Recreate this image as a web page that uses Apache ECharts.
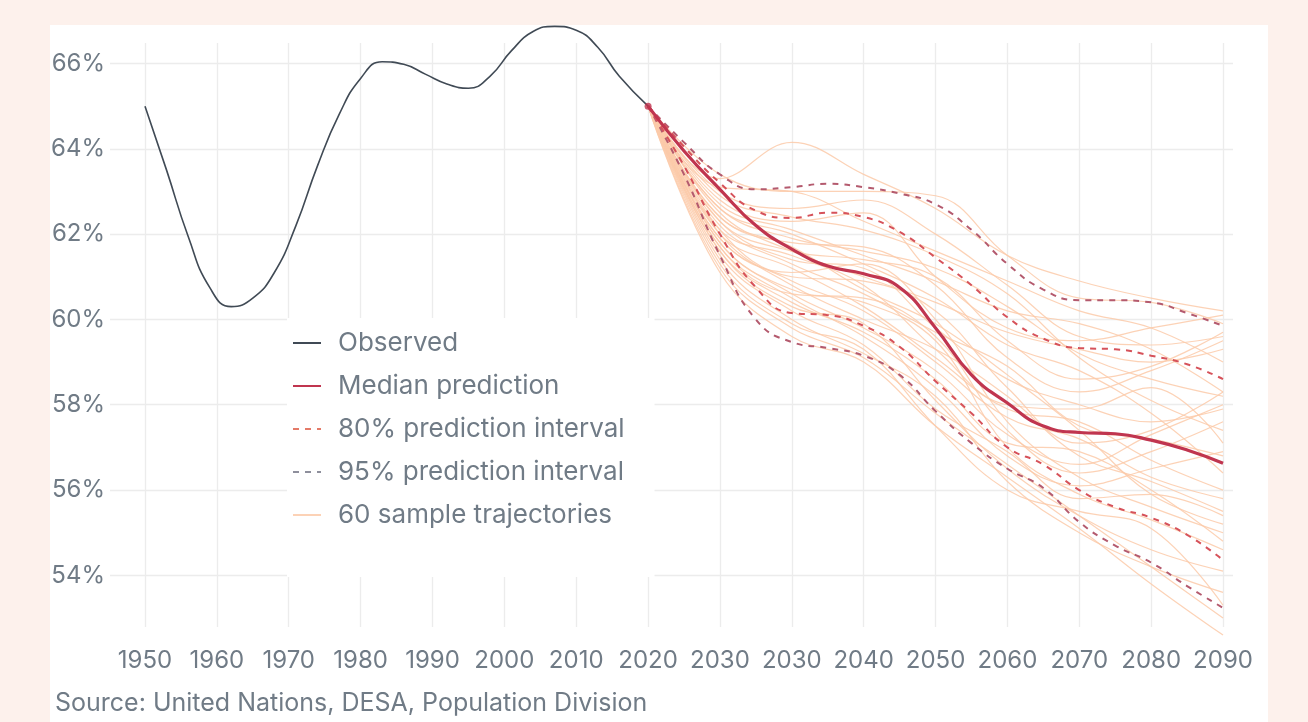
<!DOCTYPE html>
<html>
<head>
<meta charset="utf-8">
<script src="https://cdn.jsdelivr.net/npm/echarts@6/dist/echarts.min.js"></script>
<style>
  html, body { margin: 0; padding: 0; background: #fdf1ec; overflow: hidden; }
  #panel { position: absolute; left: 50px; top: 25px; width: 1218px; height: 697px; background: #ffffff; }
  #chart { position: absolute; left: 0; top: 0; width: 1308px; height: 722px; }
</style>
</head>
<body>
<div id="panel"></div>
<div id="chart"></div>
<script>
// Tick labels along the horizontal axis (one per grid column)
const xTickLabels = ['1950', '1960', '1970', '1980', '1990', '2000', '2010', '2020',
  '2030', '2030', '2040', '2050', '2060', '2070', '2080', '2090'];
const yTickValues = [54, 56, 58, 60, 62, 64, 66];

// Observed share (%) by year
const observedYears = [1950, 1953, 1956, 1959, 1962, 1965, 1968, 1971, 1974, 1977, 1980, 1983,
  1986, 1989, 1992, 1995, 1998, 2001, 2004, 2007, 2010, 2013, 2016, 2020];
const observedValues = [65.0, 63.5, 61.95, 60.75, 60.3, 60.5, 61.1, 62.2, 63.6, 64.8, 65.65, 66.04,
  65.98, 65.75, 65.52, 65.42, 65.7, 66.3, 66.75, 66.87, 66.78, 66.38, 65.7, 65.0];

// Projection positions (grid columns from the 2020 column onward, half-column steps)
const projX = [7, 7.5, 8, 8.5, 9, 9.5, 10, 10.5, 11, 11.5, 12, 12.5, 13, 13.5, 14, 14.5, 15];
const medianValues = [65.0, 63.95, 63.05, 62.2, 61.65, 61.25, 61.07, 60.75, 59.8, 58.7, 58.04,
  57.5, 57.35, 57.32, 57.17, 56.94, 56.63];
const upper95Values = [65.0, 64.15, 63.4, 63.05, 63.1, 63.18, 63.1, 62.95, 62.7, 62.1, 61.3,
  60.7, 60.45, 60.45, 60.4, 60.15, 59.85];
const upper80Values = [65.0, 64.05, 63.2, 62.55, 62.38, 62.5, 62.4, 62.05, 61.45, 60.8, 60.05,
  59.55, 59.33, 59.3, 59.15, 58.95, 58.6];
const lower80Values = [65.0, 63.6, 62.0, 60.75, 60.15, 60.1, 59.85, 59.36, 58.55, 57.8, 57.0,
  56.6, 56.0, 55.6, 55.35, 54.95, 54.36];
const lower95Values = [65.0, 63.4, 61.5, 60.0, 59.47, 59.33, 59.15, 58.7, 57.85, 57.1, 56.5,
  56.05, 55.25, 54.7, 54.3, 53.75, 53.24];

// Sample trajectories, one value per grid column from 2020 to 2090
const trajX = [7, 8, 9, 10, 11, 12, 13, 14, 15];
const trajectories = [
  [65, 63.3, 64.15, 63.4, 62.6, 61.5, 60.9, 60.5, 60.2],
  [65, 63.4, 63.0, 63.0, 62.9, 61.5, 60.5, 60.4, 59.9],
  [65, 63.0, 62.6, 62.8, 62.0, 60.8, 59.6, 59.4, 59.6],
  [65, 62.8, 62.3, 62.5, 61.0, 59.8, 59.5, 59.8, 60.1],
  [65, 62.6, 61.9, 61.6, 61.2, 60.3, 59.2, 58.6, 58.2],
  [65, 62.5, 61.6, 61.0, 60.4, 59.7, 59.3, 59.0, 59.3],
  [65, 62.4, 61.8, 61.7, 60.8, 59.1, 58.3, 58.8, 59.5],
  [65, 62.3, 61.4, 61.2, 59.8, 58.6, 58.0, 57.6, 57.9],
  [65, 62.2, 61.3, 60.6, 59.7, 58.9, 57.5, 57.2, 56.8],
  [65, 62.1, 61.0, 60.9, 60.2, 58.4, 57.1, 57.4, 58.3],
  [65, 62.0, 61.2, 60.3, 59.1, 57.9, 57.6, 56.7, 56.0],
  [65, 62.0, 60.8, 60.0, 59.3, 58.2, 56.8, 56.2, 55.5],
  [65, 61.9, 61.1, 61.3, 60.0, 57.6, 56.3, 55.6, 55.0],
  [65, 61.8, 60.6, 59.8, 58.8, 57.3, 56.6, 57.3, 58.0],
  [65, 61.8, 60.7, 60.4, 59.5, 57.0, 55.9, 55.3, 54.6],
  [65, 61.7, 60.5, 59.6, 58.4, 56.8, 56.1, 56.5, 56.9],
  [65, 61.6, 60.3, 59.9, 58.1, 56.5, 55.4, 54.6, 54.1],
  [65, 61.5, 60.2, 59.4, 57.9, 56.9, 55.8, 55.9, 55.4],
  [65, 61.4, 60.0, 59.2, 58.2, 56.2, 55.0, 54.2, 53.6],
  [65, 61.3, 59.9, 59.3, 57.5, 56.0, 55.5, 55.1, 53.3],
  [65, 61.2, 59.8, 59.1, 57.8, 56.6, 55.4, 54.2, 53.0],
  [65, 61.1, 59.6, 59.0, 57.5, 56.3, 55.1, 53.8, 52.6],
  [65, 62.7, 62.1, 61.5, 60.9, 60.2, 59.9, 59.3, 58.3],
  [65, 62.9, 62.4, 62.1, 61.5, 60.6, 59.1, 58.1, 57.4],
  [65, 62.3, 61.6, 61.4, 61.0, 59.5, 58.6, 58.9, 59.7],
  [65, 62.1, 61.5, 60.8, 59.3, 58.0, 57.9, 58.4, 57.1],
  [65, 61.9, 60.9, 60.2, 59.0, 57.7, 57.2, 56.3, 55.8],
  [65, 61.7, 60.6, 60.5, 59.6, 57.4, 56.4, 56.9, 57.6],
  [65, 63.1, 63.0, 62.3, 61.6, 60.9, 60.2, 59.8, 59.0],
  [65, 62.6, 62.0, 61.3, 60.5, 59.4, 58.8, 57.8, 56.4],
  [65, 62.4, 61.7, 60.7, 59.9, 58.7, 57.4, 55.9, 55.2],
  [65, 61.6, 60.4, 59.7, 58.6, 57.1, 56.9, 56.0, 54.8]
];

const FONT = 'Inter, "Noto Sans", sans-serif';
const TEXT_GRAY = '#707b86';
const GRID_GRAY = '#ececec';

const pairs = (xs, ys) => xs.map((x, i) => [x, ys[i]]);
const yearToColumn = y => (y - 1950) / 10;

const trajectorySeries = trajectories.map(t => ({
  name: '60 sample trajectories',
  type: 'line',
  data: pairs(trajX, t),
  smooth: 0.4,
  symbol: 'none',
  silent: true,
  clip: false,
  z: 1,
  lineStyle: { color: '#fbcaa9', width: 1.2, opacity: 0.85 }
}));

function dashed(name, values, color) {
  return {
    name: name,
    type: 'line',
    data: pairs(projX, values),
    smooth: 0.5,
    symbol: 'none',
    z: 3,
    itemStyle: { color: color },
    lineStyle: { color: color, width: 2, type: [6, 6] }
  };
}

const chart = echarts.init(document.getElementById('chart'), null, { renderer: 'canvas' });
chart.setOption({
  animation: false,
  grid: { left: 110, right: 75, top: 43, bottom: 95, containLabel: false },
  xAxis: {
    type: 'value',
    min: -0.487,
    max: 15.139,
    axisLine: { show: false },
    axisTick: { show: false, customValues: xTickLabels.map((_, i) => i) },
    axisLabel: {
      customValues: xTickLabels.map((_, i) => i),
      formatter: v => xTickLabels[Math.round(v)],
      color: TEXT_GRAY, fontFamily: FONT, fontSize: 24, margin: 22
    },
    splitLine: { show: true, lineStyle: { color: GRID_GRAY, width: 1.3 } }
  },
  yAxis: {
    type: 'value',
    min: 52.79,
    max: 66.48,
    axisLine: { show: false },
    axisTick: { show: false, customValues: yTickValues },
    axisLabel: {
      customValues: yTickValues,
      formatter: v => Math.round(v) + '%',
      color: TEXT_GRAY, fontFamily: FONT, fontSize: 24, margin: 5
    },
    splitLine: { show: true, lineStyle: { color: GRID_GRAY, width: 1.3 } }
  },
  legend: {
    orient: 'vertical',
    left: 287,
    top: 318,
    padding: [12, 30, 49, 5],
    backgroundColor: '#ffffff',
    itemWidth: 28,
    itemHeight: 14,
    itemGap: 17,
    selectedMode: false,
    itemStyle: { opacity: 0 },
    textStyle: { color: TEXT_GRAY, fontFamily: FONT, fontSize: 26, lineHeight: 24, height: 24, padding: [0, 0, 0, 12] },
    data: [
      { name: 'Observed' },
      { name: 'Median prediction' },
      { name: '80% prediction interval', lineStyle: { color: '#e47a68' } },
      { name: '95% prediction interval', lineStyle: { color: '#8e8f9c' } },
      { name: '60 sample trajectories' }
    ]
  },
  graphic: [{
    type: 'text',
    left: 55,
    top: 691,
    style: { text: 'Source: United Nations, DESA, Population Division', fill: TEXT_GRAY, font: '25px ' + FONT }
  }],
  series: trajectorySeries.concat([
    dashed('95% prediction interval', upper95Values, '#b45a6e'),
    dashed('95% prediction interval', lower95Values, '#b45a6e'),
    dashed('80% prediction interval', upper80Values, '#d6525a'),
    dashed('80% prediction interval', lower80Values, '#d6525a'),
    {
      name: 'Median prediction',
      type: 'line',
      data: pairs(projX, medianValues),
      smooth: 0.5,
      symbol: 'none',
      z: 4,
      itemStyle: { color: '#c0354f' },
      lineStyle: { color: '#c0354f', width: 3.2 }
    },
    {
      name: 'Observed',
      type: 'line',
      data: observedYears.map((y, i) => [yearToColumn(y), observedValues[i]]),
      smooth: 0.5,
      symbol: 'none',
      clip: false,
      z: 4,
      itemStyle: { color: '#404a55' },
      lineStyle: { color: '#404a55', width: 1.6 }
    },
    {
      name: 'start',
      type: 'scatter',
      data: [[projX[0], medianValues[0]]],
      symbolSize: 7,
      z: 5,
      itemStyle: { color: '#c0354f' }
    }
  ])
});
</script>
</body>
</html>
